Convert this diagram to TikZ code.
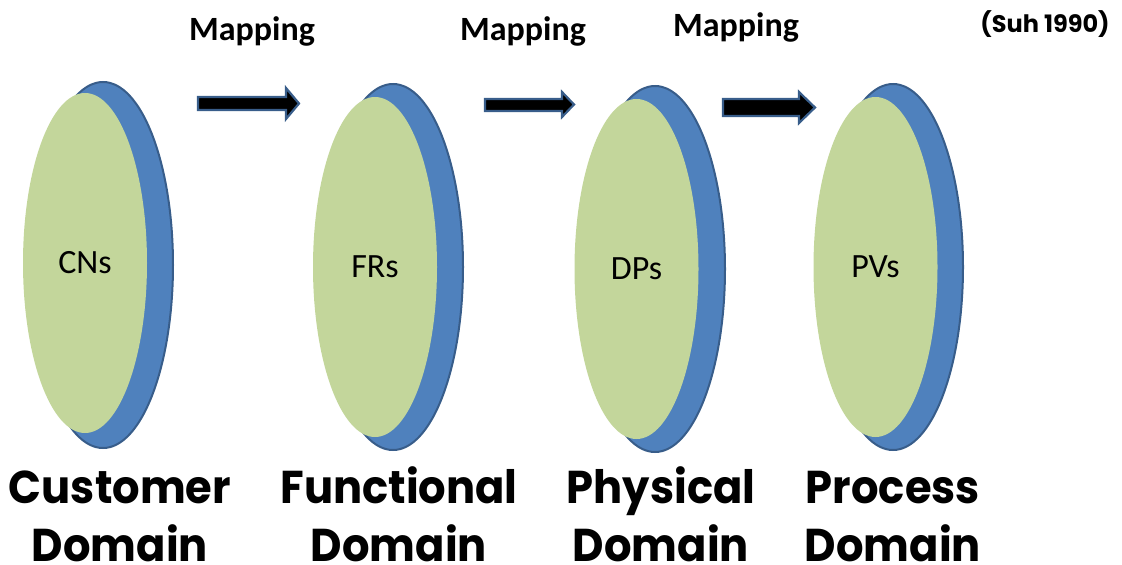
\documentclass[tikz,border=0pt]{standalone}
\usepackage{fontspec}
\setmainfont{Carlito}
\newfontfamily\gothic{Poppins}
\newfontfamily\gothicnarrow{Poppins}[FakeStretch=0.94]
\usetikzlibrary{shapes.geometric}
\definecolor{discblue}{HTML}{4F81BD}
\definecolor{discedge}{HTML}{385D8A}
\definecolor{discgreen}{HTML}{C3D69B}
\tikzset{
  back/.style={ellipse, fill=discblue, draw=discedge, line width=2pt,
    minimum width=140pt, minimum height=366pt, inner sep=0pt},
  face/.style={ellipse, fill=discgreen, minimum width=124pt,
    minimum height=340pt, inner sep=0pt, font=\fontsize{34}{34}\selectfont},
  maplabel/.style={font=\fontsize{34}{34}\selectfont\bfseries},
  domlabel/.style={font=\gothicnarrow\bfseries\fontsize{46}{58}\selectfont,
    align=center, anchor=base, inner sep=0pt},
  blockarrow/.style={fill=black, draw=discedge, line width=2.2pt, line join=miter}
}
\begin{document}
\begin{tikzpicture}[x=1pt,y=-1pt]
\useasboundingbox (0,0) rectangle (1122,565);

% discs: blue rim behind, green face in front
\node[back] (b1) at (103,265) {};
\node[face] (cn) at (85,263) {CNs};
\node[back] (b2) at (393,267) {};
\node[face] (fr) at (375,267) {FRs};
\node[back] (b3) at (655,269) {};
\node[face] (dp) at (636.5,269) {DPs};
\node[back] (b4) at (893,267) {};
\node[face] (pv) at (875.5,267) {PVs};

% block arrows between the discs
\draw[blockarrow] (198,97) -- (286,97) -- (286,88) -- (299,103.5) -- (286,119)
  -- (286,110) -- (198,110) -- cycle;
\draw[blockarrow] (485,99) -- (562,99) -- (562,92) -- (574,104.5) -- (562,117)
  -- (562,111) -- (485,111) -- cycle;
\draw[blockarrow] (723,99) -- (799,99) -- (799,92) -- (815,107.5) -- (799,123)
  -- (799,116) -- (723,116) -- cycle;

% labels
\node[maplabel] (m1) at (252,31) {Mapping};
\node[maplabel] (m2) at (523,31) {Mapping};
\node[maplabel] (m3) at (736,27) {Mapping};
\node[font=\gothic\bfseries\fontsize{24}{24}\selectfont] (ref) at (1045,24) {(Suh 1990)};

% the base anchor of a two-line label sits on its last line
\node[domlabel] (d1) at (120,561) {Customer\\Domain};
\node[domlabel] (d2) at (399,561) {Functional\\Domain};
\node[domlabel] (d3) at (661,561) {Physical\\Domain};
\node[domlabel] (d4) at (893,561) {Process\\Domain};
\end{tikzpicture}
\end{document}
